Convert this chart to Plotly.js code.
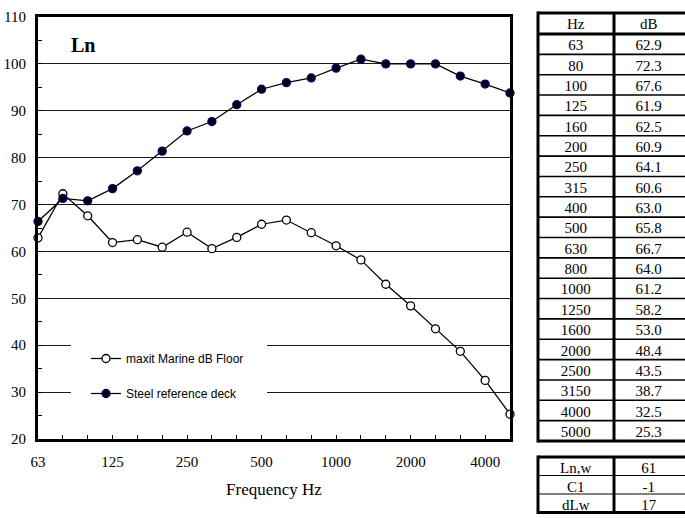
<!DOCTYPE html>
<html><head><meta charset="utf-8">
<script src="https://cdn.plot.ly/plotly-3.0.1.min.js"></script>
<style>html,body{margin:0;padding:0;background:#fff}#chart{width:685px;height:518px}</style>
</head><body><div id="chart"></div>
<script>
const frequencies = ['63','80','100','125','160','200','250','315','400','500','630','800','1000','1250','1600','2000','2500','3150','4000','5000'];
const maxitValues = [62.9,72.3,67.6,61.9,62.5,60.9,64.1,60.6,63.0,65.8,66.7,64.0,61.2,58.2,53.0,48.4,43.5,38.7,32.5,25.3];
const steelValues = [66.4,71.3,70.8,73.4,77.2,81.4,85.7,87.7,91.3,94.6,96.0,97.0,99.1,101.0,100.0,100.0,100.0,97.4,95.7,93.8];
const xTickLabels = ['63','125','250','500','1000','2000','4000'];
const yTickValues = [20,30,40,50,60,70,80,90,100,110];
const tableHeader = ['Hz','dB'];
const summaryLabels = ['Ln,w','C1','dLw'];
const summaryValues = ['61','-1','17'];
const seriesNames = ['maxit Marine dB Floor','Steel reference deck'];
const chartLabel = 'Ln';
const xTitle = 'Frequency Hz';

const W = 685, H = 518, ML = 38, MR = 0, MT = 8, MB = 5;
const PW = W - ML - MR, PH = H - MT - MB;
const px = x => (x - ML) / PW;
const py = y => (H - MB - y) / PH;

const serif = 'Liberation Serif, Times New Roman, serif';
const sans = 'Liberation Sans, Arial, sans-serif';

const lineStyle = {color: 'black', width: 1.25};
const cellFont = {family: serif, size: 15, color: 'black'};
const clear = {color: 'rgba(0,0,0,0)'};

// table geometry (pixels)
const T1 = {top: 13, header: 21, row: 20.35};
const T2 = {top: 457, row: 18.5};
const TX = {left: 538, mid: 614, right: 690};
const textLift = 3;

const traces = [
  {
    type: 'scatter', mode: 'lines+markers', name: seriesNames[0],
    x: frequencies, y: maxitValues, legendgroup: 'a',
    line: lineStyle, cliponaxis: false,
    marker: {symbol: 'circle', size: 8, color: 'white', line: {color: 'black', width: 1.3}}
  },
  {
    type: 'scatter', mode: 'lines+markers', name: seriesNames[1],
    x: frequencies, y: steelValues, legendgroup: 'b',
    line: lineStyle, cliponaxis: false,
    marker: {symbol: 'circle', size: 8, color: 'black', line: {color: '#000080', width: 1.3}}
  },
  {
    type: 'table',
    domain: {x: [px(TX.left), 1], y: [py(448), py(T1.top - textLift)]},
    columnwidth: [TX.mid - TX.left, W - TX.mid],
    header: {values: tableHeader, height: T1.header, align: 'center', font: cellFont,
             line: {color: 'rgba(0,0,0,0)', width: 0}, fill: clear},
    cells: {values: [frequencies, maxitValues.map(v => v.toFixed(1))], height: T1.row, align: 'center',
            font: cellFont, line: {color: 'rgba(0,0,0,0)', width: 0}, fill: clear}
  },
  {
    type: 'table',
    domain: {x: [px(TX.left), 1], y: [py(512), py(T2.top - textLift)]},
    columnwidth: [TX.mid - TX.left, W - TX.mid],
    header: {values: [summaryLabels[0], summaryValues[0]], height: T2.row, align: 'center', font: cellFont,
             line: {color: 'rgba(0,0,0,0)', width: 0}, fill: clear},
    cells: {values: [summaryLabels.slice(1), summaryValues.slice(1)], height: T2.row, align: 'center',
            font: cellFont, line: {color: 'rgba(0,0,0,0)', width: 0}, fill: clear}
  }
];

function seg(x0, y0, x1, y1, w) {
  return {type: 'line', xref: 'paper', yref: 'paper', x0: px(x0), y0: py(y0), x1: px(x1), y1: py(y1),
          line: {color: 'black', width: w}, layer: 'below'};
}

const shapes = [
  {type: 'rect', xref: 'paper', yref: 'paper', x0: px(71), x1: px(267), y0: py(412), y1: py(330),
   fillcolor: 'white', line: {width: 0}, layer: 'above'}
];
// main table grid
const t1Bottom = T1.top + T1.header + frequencies.length * T1.row;
shapes.push(seg(TX.left, T1.top - 1.5, TX.left, t1Bottom + 1.5, 3));
shapes.push(seg(TX.mid, T1.top, TX.mid, t1Bottom, 3));
shapes.push(seg(TX.left, T1.top, TX.right, T1.top, 3));
shapes.push(seg(TX.left, T1.top + T1.header, TX.right, T1.top + T1.header, 3));
for (let i = 1; i < frequencies.length; i++) {
  const y = T1.top + T1.header + i * T1.row;
  shapes.push(seg(TX.left, y, TX.right, y, 1.6));
}
shapes.push(seg(TX.left, t1Bottom, TX.right, t1Bottom, 3));
// summary table grid
const t2Bottom = T2.top + summaryLabels.length * T2.row;
shapes.push(seg(TX.left, T2.top - 1.5, TX.left, t2Bottom + 1.5, 3));
shapes.push(seg(TX.mid, T2.top, TX.mid, t2Bottom, 3));
shapes.push(seg(TX.left, T2.top, TX.right, T2.top, 3));
for (let i = 1; i < summaryLabels.length; i++) {
  const y = T2.top + i * T2.row;
  shapes.push(seg(TX.left, y, TX.right, y, 1));
}
shapes.push(seg(TX.left, t2Bottom, TX.right, t2Bottom, 3));

const layout = {
  width: W, height: H,
  margin: {l: ML, r: MR, t: MT, b: MB, pad: 0},
  paper_bgcolor: 'white', plot_bgcolor: 'white',
  showlegend: true,
  legend: {
    x: px(86), y: py(344), xanchor: 'left', yanchor: 'top',
    bgcolor: 'rgba(0,0,0,0)', borderwidth: 0,
    font: {family: sans, size: 12, color: 'black'},
    traceorder: 'grouped', tracegroupgap: 16
  },
  xaxis: {
    domain: [0, px(510)],
    type: 'category', range: [0, frequencies.length - 1],
    tickmode: 'array', tickvals: frequencies,
    ticktext: frequencies.map(f => xTickLabels.includes(f) ? f : ''),
    ticks: 'inside', ticklen: 4, tickwidth: 1, tickcolor: 'black',
    ticklabelstandoff: 7,
    showgrid: false, zeroline: false,
    showline: true, linecolor: 'black', linewidth: 3, mirror: true,
    tickfont: {family: serif, size: 15, color: 'black'},
    title: {text: xTitle, font: {family: serif, size: 17, color: 'black'}, standoff: 15},
    fixedrange: true
  },
  yaxis: {
    domain: [py(439), py(17)],
    range: [20, 110],
    tickmode: 'array', tickvals: yTickValues,
    ticks: 'inside', ticklen: 4, tickwidth: 1, tickcolor: 'black',
    showgrid: true, gridcolor: '#1a1a1a', gridwidth: 1, zeroline: false,
    showline: true, linecolor: 'black', linewidth: 3, mirror: true,
    tickfont: {family: serif, size: 15, color: 'black'},
    ticklabelstandoff: 6,
    minor: {tickmode: 'linear', tick0: 20, dtick: 5, ticks: 'inside', ticklen: 4, tickcolor: 'black', showgrid: false},
    fixedrange: true
  },
  shapes: shapes,
  annotations: [
    {text: '<b>' + chartLabel + '</b>', xref: 'paper', yref: 'paper', x: px(82.5), y: py(45),
     xanchor: 'center', yanchor: 'middle', showarrow: false,
     font: {family: serif, size: 20, color: 'black'}}
  ]
};

Plotly.newPlot('chart', traces, layout, {staticPlot: true, displayModeBar: false});
</script>
</body></html>
